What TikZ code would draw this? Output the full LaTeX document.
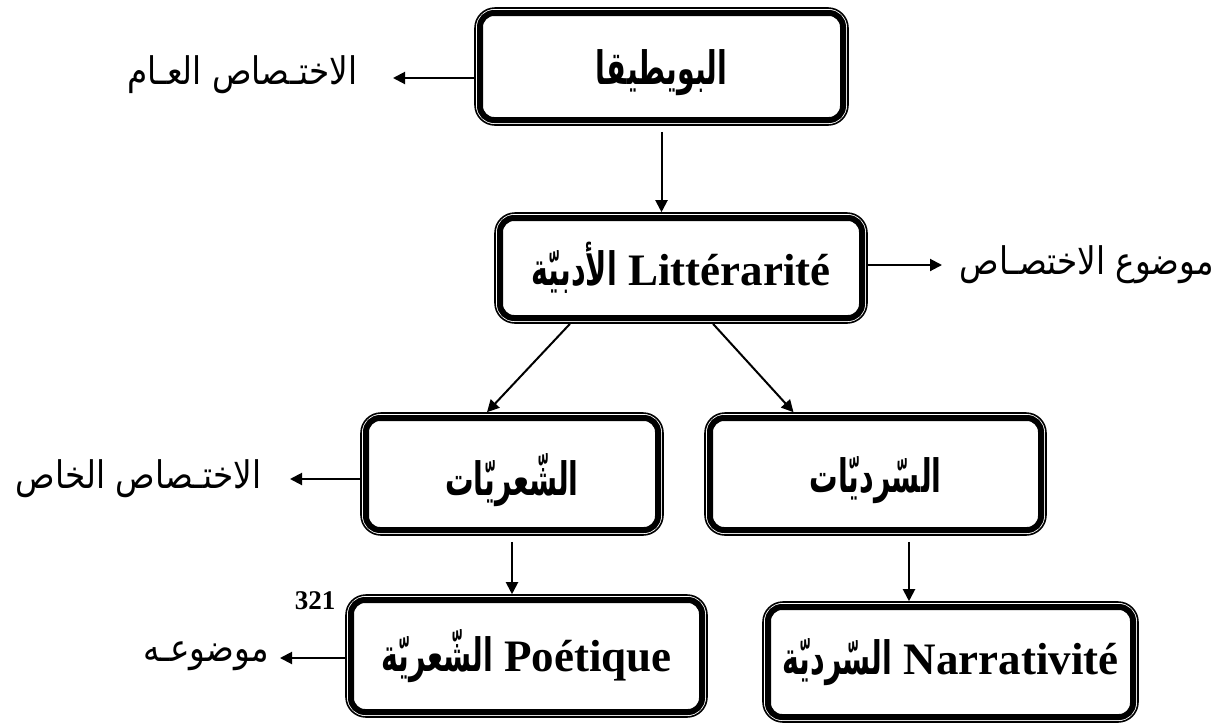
\documentclass[tikz,border=0pt]{standalone}
\usepackage{fontspec}
\setmainfont{Liberation Serif}
\newfontfamily\arabicfont[Script=Arabic,FakeStretch=0.86]{DejaVu Sans}
\newfontfamily\arabicbox[Script=Arabic,FakeStretch=0.62]{DejaVu Sans}
\TeXXeTstate=1
\usetikzlibrary{arrows.meta,calc}
\begin{document}
\begin{tikzpicture}[x=0.5pt,y=-0.5pt,
  dbox/.style 2 args={draw,line width=0.8pt,rounded corners=10pt,inner sep=0pt,
    minimum width=#1,minimum height=#2,align=center},
  innerline/.style={line width=3pt,rounded corners=7pt},
  arr/.style={line width=1pt,-{Triangle[length=6pt,width=6pt]}},
  lab/.style={font=\arabicfont\fontsize{19}{21}\selectfont,inner sep=0pt},
  btxt/.style={font=\fontsize{22.5}{25}\selectfont\bfseries}]
\newcommand\ab[1]{{\arabicbox\bfseries\fontsize{23}{25}\selectfont\beginR #1\endR}}
\newcommand\abl[1]{\raisebox{-3pt}[\height][\depth]{\ab{#1}}}
\useasboundingbox (0,0) rectangle (1227,724);
% boxes
\node[dbox={186.5pt}{58.5pt},btxt] (b1) at (661.5,66.5) {\abl{البويطيقا}};
\node[dbox={186pt}{55pt},btxt] (b2) at (681,268) {\ab{الأدبيّة} Littérarité};
\node[dbox={151pt}{61pt},btxt] (b3) at (512,474) {\abl{الشّعريّات}};
\node[dbox={170.5pt}{61pt},btxt] (b4) at (875.5,474) {\abl{السّرديّات}};
\node[dbox={180.5pt}{61pt},btxt] (b5) at (526.5,656) {\ab{الشّعريّة} Poétique};
\node[dbox={187.5pt}{60pt},btxt] (b6) at (950.5,662) {\ab{السّرديّة} Narrativité};
\foreach \n in {b1,b2,b3,b4,b5,b6}
  \draw[innerline] ([shift={(2.9pt,-2.9pt)}]\n.north west) rectangle ([shift={(-2.9pt,2.9pt)}]\n.south east);
% side labels
\node[lab] (l1) at (242.5,75) {\beginR الاختـصاص العـام\endR};
\node[lab] (l2) at (1087,265) {\beginR موضوع الاختصـاص\endR};
\node[lab] (l3) at (138.5,479) {\beginR الاختـصاص الخاص\endR};
\node[lab] (l4) at (206,656) {\beginR موضوعـه\endR};
\node[font=\fontsize{13.5}{15}\selectfont\bfseries,inner sep=0pt] (n321) at (315,601) {321};
% free ends
\coordinate (t1) at (393,78);
\coordinate (t2) at (942,265);
\coordinate (t3) at (290,479);
\coordinate (t4) at (280,658);
% connectors
\draw[arr] ([yshift=-3pt]b1.south) -- (b1.south |- b2.north);
\draw[arr] (b1.west |- t1) -- (t1);
\draw[arr] (b2.east |- t2) -- (t2);
\draw[arr] ([xshift=-55.5pt]b2.south) -- ([xshift=-12.5pt]b3.north);
\draw[arr] ([xshift=16pt]b2.south) -- ([xshift=-41pt]b4.north);
\draw[arr] (b3.west |- t3) -- (t3);
\draw[arr] ([yshift=-3pt]b3.south) -- (b3.south |- b5.north);
\coordinate (c8) at ([xshift=16.75pt,yshift=-3pt]b4.south);
\draw[arr] (c8) -- (c8 |- b6.north);
\draw[arr] (b5.west |- t4) -- (t4);
\end{tikzpicture}
\end{document}
